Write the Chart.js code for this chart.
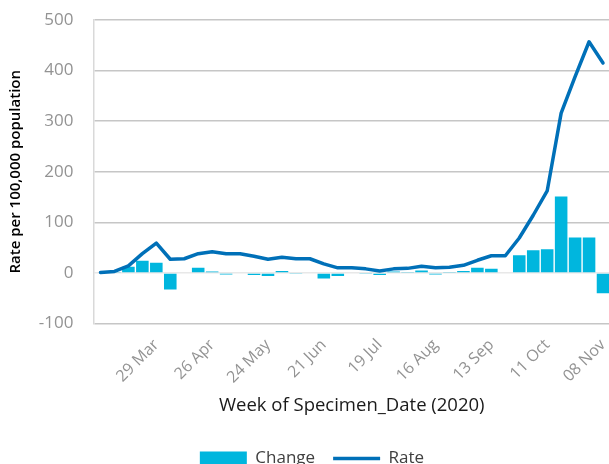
<!DOCTYPE html>
<html>
<head>
<meta charset="utf-8">
<script src="https://cdn.jsdelivr.net/npm/chart.js@4"></script>
<style>
  html, body { margin: 0; padding: 0; background: #fff; overflow: hidden; }
  #rateChart { display: block; }
</style>
</head>
<body>
<canvas id="rateChart" width="610" height="477"></canvas>
<script>
// Week of specimen date (2020)
const weeks = [
  '01 Mar', '08 Mar', '15 Mar', '22 Mar', '29 Mar', '05 Apr', '12 Apr', '19 Apr',
  '26 Apr', '03 May', '10 May', '17 May', '24 May', '31 May', '07 Jun', '14 Jun',
  '21 Jun', '28 Jun', '05 Jul', '12 Jul', '19 Jul', '26 Jul', '02 Aug', '09 Aug',
  '16 Aug', '23 Aug', '30 Aug', '06 Sep', '13 Sep', '20 Sep', '27 Sep', '04 Oct',
  '11 Oct', '18 Oct', '25 Oct', '01 Nov', '08 Nov',
];

// Rate per 100,000 population
const rate = [
  1, 3, 14, 38, 59, 27, 28, 38, 42, 38, 38, 33, 27, 31, 28, 28, 18, 10, 10,
  8, 4, 8, 9, 13, 10, 11, 15, 25, 34, 34, 69, 114, 162, 316, 388, 457, 415,
];

// Week on week change
const change = [
  0, 2, 12, 24, 20, -33, 0, 10, 3, -3, 0, -4, -6, 4, -2, 0, -11, -6, 0,
  -2, -4, 3, 1, 5, -3, 1, 4, 10, 8, 0, 35, 45, 47, 151, 70, 70, -40,
];

const yTicks = [-100, 0, 100, 200, 300, 400, 500];

const FONT = "'Open Sans', 'Liberation Sans', sans-serif";

const ctx = document.getElementById('rateChart');
new Chart(ctx, {
  type: 'bar',
  data: {
    labels: weeks,
    datasets: [
      {
        type: 'bar',
        label: 'Change',
        data: change,
        backgroundColor: '#00B6DE',
        borderWidth: 0,
        barPercentage: 0.9,
        categoryPercentage: 1,
        pointStyle: 'rect',
        order: 1,
      },
      {
        type: 'line',
        label: 'Rate',
        data: rate,
        borderColor: '#0070B8',
        backgroundColor: '#0070B8',
        borderWidth: 3.5,
        borderJoinStyle: 'round',
        borderCapStyle: 'round',
        tension: 0,
        pointRadius: 0,
        pointStyle: 'line',
        order: 0,
      },
    ],
  },
  options: {
    responsive: false,
    animation: false,
    devicePixelRatio: 1,
    layout: {
      padding: { top: 20, left: 14, right: 0, bottom: 0 },
    },
    plugins: {
      tooltip: { enabled: false },
      legend: {
        display: true,
        position: 'bottom',
        labels: {
          usePointStyle: true,
          pointStyleWidth: 47,
          boxHeight: 14,
          padding: 18,
          color: '#404040',
          font: { family: FONT, size: 17 },
          sort: (a, b) => a.datasetIndex - b.datasetIndex,
        },
      },
    },
    scales: {
      x: {
        grid: { display: false, drawTicks: false },
        border: { display: false },
        ticks: {
          autoSkip: false,
          minRotation: 45,
          maxRotation: 45,
          padding: 12,
          color: '#939393',
          font: { family: FONT, size: 16 },
          callback: (value, index) => (index > 0 && index % 4 === 0 ? weeks[index] : ''),
        },
        title: {
          display: true,
          text: 'Week of Specimen_Date (2020)',
          color: '#1a1a1a',
          font: { family: FONT, size: 18.5 },
          padding: { top: 0, bottom: 15 },
        },
        afterFit: (scale) => {
          scale.height = 108.5;
          scale.paddingLeft = 0;
          scale.paddingRight = 0;
        },
      },
      y: {
        min: yTicks[0],
        max: yTicks[yTicks.length - 1],
        afterBuildTicks: (scale) => { scale.ticks = yTicks.map((v) => ({ value: v })); },
        grid: {
          drawTicks: false,
          lineWidth: 1.5,
          color: (c) => (c.tick && c.tick.value === 0 ? '#e8e8e8' : '#c6c6c6'),
        },
        border: { display: true, color: '#d9d9d9', width: 1.5 },
        ticks: {
          padding: 20,
          color: '#939393',
          font: { family: FONT, size: 17 },
        },
        title: {
          display: true,
          text: 'Rate per 100,000 population',
          color: '#000',
          font: { family: FONT, size: 15, weight: '600' },
          padding: { top: -7, bottom: 0 },
        },
        afterFit: (scale) => {
          scale.width = 79.5;
          scale.paddingTop = 0;
          scale.paddingBottom = 0;
        },
      },
    },
  },
});
</script>
</body>
</html>
